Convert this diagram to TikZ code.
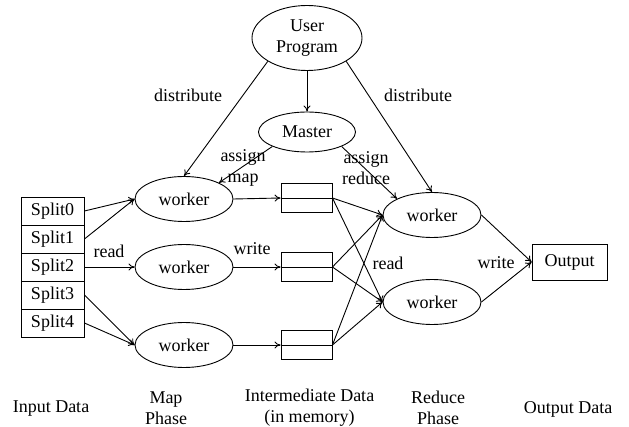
\documentclass[tikz,border=0pt]{standalone}
\usepackage{fontspec}
\setmainfont{Liberation Serif}
\usetikzlibrary{shapes.geometric,arrows.meta}

\begin{document}
\begin{tikzpicture}[x=1pt,y=-1pt,
  font=\fontsize{18}{21}\selectfont,
  line width=0.9pt,
  every node/.style={inner sep=0pt},
  oval/.style={draw, ellipse, minimum width=98pt, minimum height=45pt},
  splitbox/.style={draw, rectangle, minimum width=63pt, minimum height=28pt},
  membox/.style={draw, rectangle, minimum width=51pt, minimum height=29pt},
  outbox/.style={draw, rectangle, minimum width=75pt, minimum height=36pt},
  lbl/.style={align=center},
  arr/.style={-{To[length=6pt,width=7pt]}}
]
\useasboundingbox (0,0) rectangle (629,427);

% control nodes
\node[draw, ellipse, minimum width=110pt, minimum height=65pt, align=center] (up) at (307,38) {User\\Program};
\node[draw, ellipse, minimum width=97pt, minimum height=40pt] (master) at (307,132) {Master};

% input splits
\node[splitbox] (s0) at (52.5,211) {Split0};
\node[splitbox] (s1) at (52.5,239) {Split1};
\node[splitbox] (s2) at (52.5,267) {Split2};
\node[splitbox] (s3) at (52.5,295) {Split3};
\node[splitbox] (s4) at (52.5,323) {Split4};

% map workers
\node[oval] (w1) at (184,199) {worker};
\node[oval] (w2) at (184,267) {worker};
\node[oval] (w3) at (184,345) {worker};

% intermediate buffers
\node[membox] (b1) at (306.5,198) {};
\node[membox] (b2) at (306.5,267) {};
\node[membox] (b3) at (306.5,345) {};
\foreach \b in {b1,b2,b3} \draw (\b.west) -- (\b.east);

% reduce workers
\node[oval] (r1) at (432,215) {worker};
\node[oval] (r2) at (432,302) {worker};

% output
\node[outbox] (out) at (569.5,262) {Output};

% control arrows
\draw[arr] (up) -- (master);
\draw[arr] (up.south west) -- (w1.north);
\draw[arr] (up.south east) -- (r1.north);
\draw[arr] (master.south west) -- (w1.north east);
\draw[arr] (master.south east) -- (r1.north west);

% read splits
\draw[arr] (s0.east) -- (w1.west);
\draw[arr] (s1.east) -- (w1.west);
\draw[arr] (s2.east) -- (w2.west);
\draw[arr] (s3.east) -- (w3.west);
\draw[arr] (s4.east) -- (w3.west);

% write intermediate data
\draw[arr] (w1.east) -- (b1.west);
\draw[arr] (w2.east) -- (b2.west);
\draw[arr] (w3.east) -- (b3.west);

% shuffle to reducers
\foreach \b in {b1,b2,b3} {
  \draw[arr] (\b.east) -- (r1.west);
  \draw[arr] (\b.east) -- (r2.west);
}

% write output
\draw[arr] (r1.east) -- (out.west);
\draw[arr] (r2.east) -- (out.west);

% edge labels
\node[lbl] (ld1) at (188,95) {distribute};
\node[lbl] (ld2) at (418,95) {distribute};
\node[lbl] (lam) at (243,168) {assign\\map};
\node[lbl] (lar) at (366,168) {assign\\reduce};
\node[lbl] (lr1) at (109,251) {read};
\node[lbl] (lw1) at (252,249) {write};
\node[lbl] (lr2) at (388,263) {read};
\node[lbl] (lw2) at (496,263) {write};

% phase captions
\node[lbl] (c1) at (51,409) {Input Data};
\node[lbl] (c2) at (166,408) {Map\\Phase};
\node[lbl] (c3) at (309.5,408) {Intermediate Data\\(in memory)};
\node[lbl] (c4) at (438,408) {Reduce\\Phase};
\node[lbl] (c5) at (568,409) {Output Data};
\end{tikzpicture}
\end{document}
